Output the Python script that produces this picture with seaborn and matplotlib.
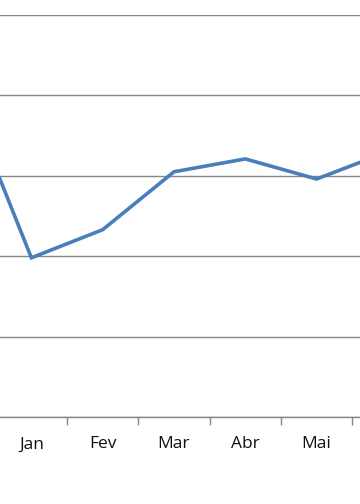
import matplotlib
matplotlib.use("Agg")
import matplotlib.pyplot as plt
import seaborn as sns
import numpy as np
import pandas as pd

categories = ["Dez", "Jan", "Fev", "Mar", "Abr", "Mai", "Jun"]
values = [4.2, 1.98, 2.33, 3.05, 3.21, 2.96, 3.3]
tick_labels = ["", "Jan", "Fev", "Mar", "Abr", "Mai", ""]  # outer ones fall outside the crop
yticks = [0, 1, 2, 3, 4, 5]

sns.set_style("white")
plt.rcParams['font.family'] = ['Open Sans', 'DejaVu Sans']

fig = plt.figure(figsize=(3.6, 5.04), dpi=100)
# axes extends past the figure (reference is a crop of a wider chart)
ax = fig.add_axes([-75.55 / 360, 87 / 504, 499.1 / 360, 402 / 504])

df = pd.DataFrame({"pos": np.arange(len(categories)), "val": values})
sns.lineplot(data=df, x="pos", y="val", ax=ax, color="#4A7EBB", linewidth=2.6,
             solid_joinstyle="miter", legend=False)

ax.set_xlim(-0.5, len(categories) - 0.5)
ax.set_ylim(0, 5)
ax.set_yticks(yticks)
ax.yaxis.grid(True, color="#868686", linewidth=1.0)
ax.xaxis.grid(False)
ax.set_axisbelow(True)
ax.tick_params(axis="y", left=False, labelleft=False)

ax.set_xticks(np.arange(len(categories)))
ax.set_xticklabels(tick_labels, fontsize=12.5, color="#111111")
ax.set_xticks(np.arange(len(categories) - 1) + 0.5, minor=True)
ax.tick_params(axis="x", which="major", bottom=True, length=0, pad=14)
ax.tick_params(axis="x", which="minor", bottom=True, length=6, width=1,
               color="#868686", direction="out")

for s in ["top", "left", "right"]:
    ax.spines[s].set_visible(False)
ax.spines["bottom"].set_color("#868686")
ax.spines["bottom"].set_linewidth(1.0)
ax.set_xlabel("")
ax.set_ylabel("")

fig.savefig("out.png", dpi=100)
